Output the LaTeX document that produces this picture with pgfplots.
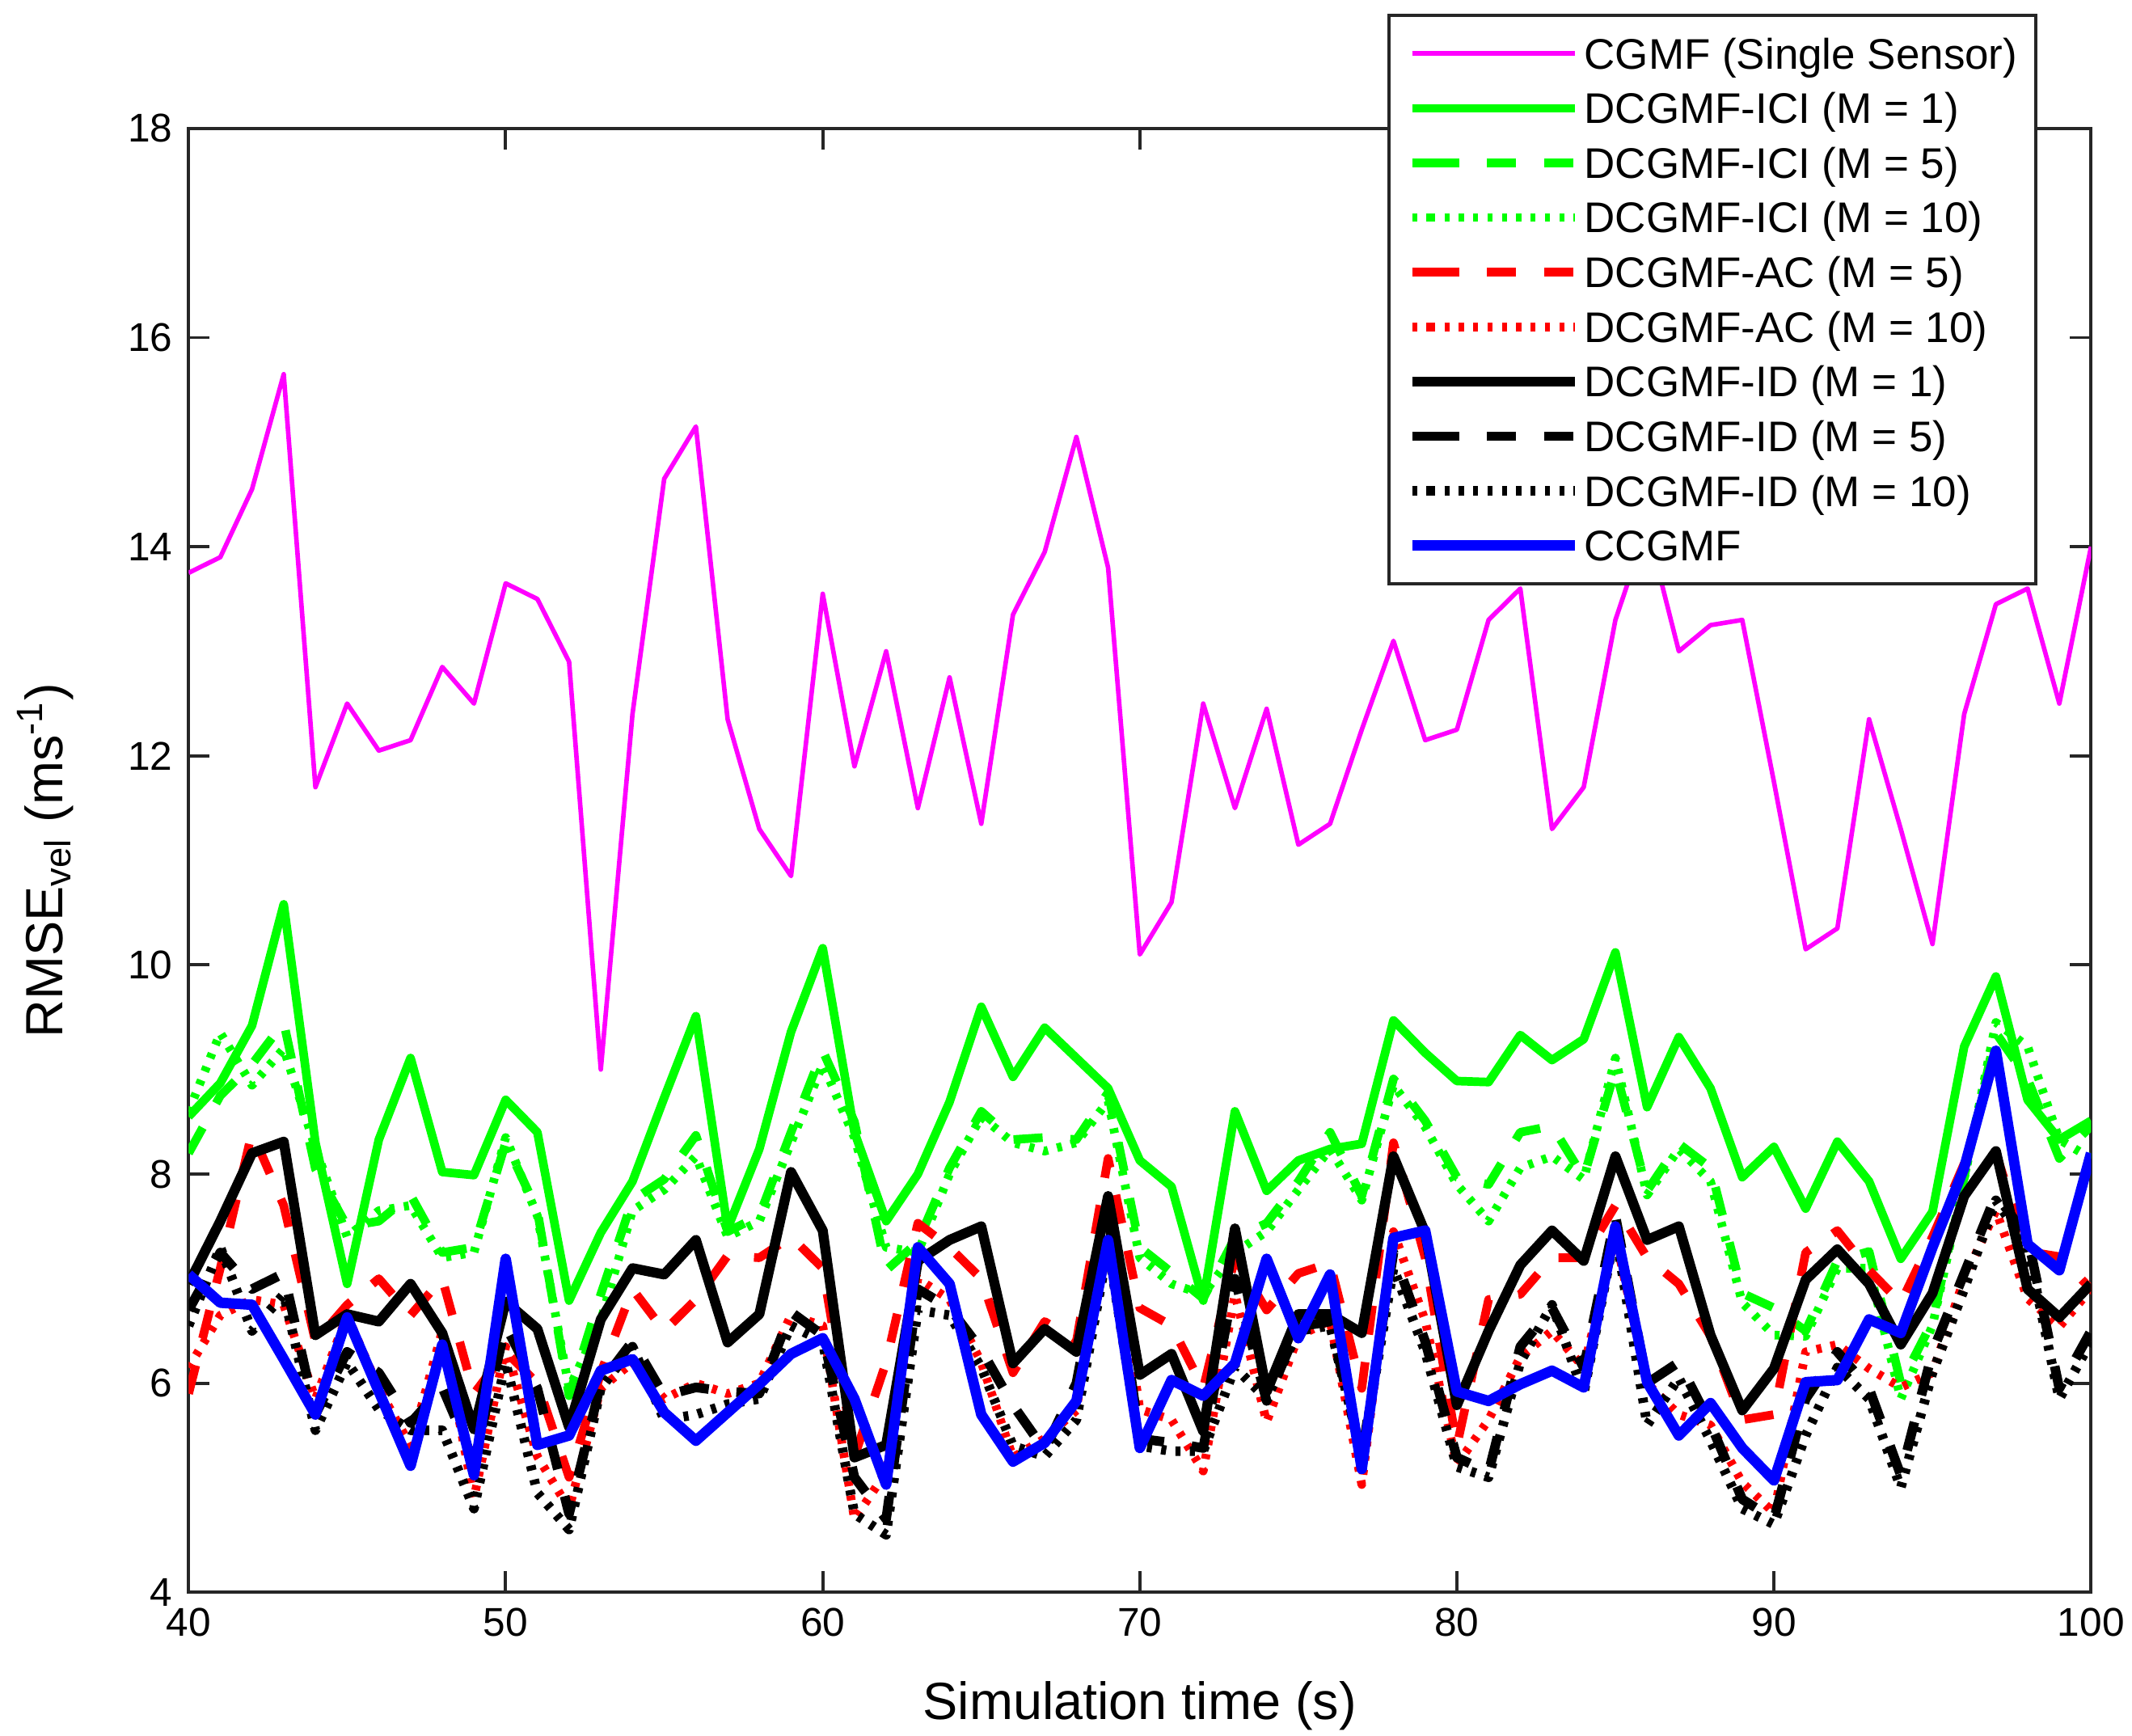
\documentclass[border=0pt]{standalone}
\usepackage{fontspec}
\setmainfont{Liberation Sans}
\usepackage{pgfplots}
\usepackage{pgfplotstable}
\pgfplotsset{compat=1.18}
\definecolor{axgray}{gray}{0.15}
\definecolor{mgreen}{rgb}{0,1,0}
\definecolor{mmag}{rgb}{1,0,1}
\definecolor{mred}{rgb}{1,0,0}
\definecolor{mblue}{rgb}{0,0,1}
\pgfplotstableread{
t  cg    ici1  ici5  ici10 ac5   ac10  id1   id5   id10  cc
40 13.75 8.55  8.20  8.60  5.90  6.15  6.95  6.70  6.55  7.04
41 13.90 8.87  8.75  9.35  7.10  6.65  7.55  7.25  7.30  6.77
42 14.55 9.42  9.05  8.85  8.40  6.80  8.20  6.90  6.50  6.75
43 15.65 10.58 9.45  9.20  7.70  6.75  8.31  7.05  6.85  6.23
44 11.70 8.30  8.05  8.25  6.40  5.85  6.46  5.70  5.55  5.70
45 12.50 6.95  7.50  7.40  6.75  6.65  6.66  6.30  6.20  6.63
46 12.05 8.33  7.55  7.65  7.00  5.95  6.59  6.10  5.75  5.92
47 12.15 9.11  7.80  7.70  6.65  5.40  6.95  5.62  5.55  5.21
48 12.85 8.02  7.25  7.20  7.00  6.50  6.48  5.96  5.55  6.37
49 12.50 7.99  7.30  7.25  5.90  4.90  5.56  5.25  4.80  5.12
50 13.65 8.71  8.30  8.35  6.30  6.35  6.78  6.55  6.20  7.19
51 13.50 8.40  7.65  7.60  6.00  5.30  6.52  5.95  4.95  5.41
52 12.90 6.79  5.88  5.95  5.10  4.80  5.58  4.75  4.60  5.50
53 9.00  7.44  6.85  6.60  6.10  5.95  6.61  6.00  5.95  6.12
54 12.40 7.93  7.75  7.65  6.90  6.20  7.10  6.40  6.35  6.23
55 14.65 8.73  7.95  7.85  6.50  5.85  7.04  5.88  5.65  5.72
56 15.15 9.51  8.37  8.17  6.80  6.00  7.37  5.96  5.70  5.45
57 12.35 7.48  7.45  7.40  7.22  5.90  6.39  5.92  5.80  5.72
58 11.30 8.24  7.60  7.55  7.20  6.00  6.66  5.90  5.85  5.99
59 10.85 9.36  8.40  8.30  7.40  6.65  8.02  6.68  6.55  6.28
60 13.55 10.16 9.18  9.05  7.10  6.55  7.46  6.46  6.40  6.43
61 11.90 8.40  8.50  8.35  5.30  4.70  5.29  5.10  4.75  5.85
62 13.00 7.55  7.08  7.30  6.20  5.15  5.41  4.70  4.55  5.03
63 11.50 8.00  7.35  7.25  7.53  7.00  7.17  6.90  6.70  7.30
64 12.75 8.69  8.06  8.00  7.30  6.80  7.37  6.72  6.65  6.95
65 11.35 9.60  8.60  8.55  7.00  6.20  7.50  6.32  6.15  5.70
66 13.35 8.93  8.33  8.30  6.10  5.29  6.19  5.79  5.40  5.25
67 13.95 9.40  8.35  8.22  6.59  5.47  6.52  5.36  5.30  5.43
68 15.05 9.11  8.33  8.30  6.40  5.74  6.30  6.00  5.65  5.83
69 13.80 8.82  8.78  8.70  8.15  7.80  7.79  7.60  7.30  7.37
70 10.10 8.13  7.30  7.20  6.72  5.75  6.08  5.47  5.40  5.38
71 10.60 7.88  7.06  6.95  6.55  5.65  6.28  5.43  5.35  6.03
72 12.50 6.79  6.81  6.85  5.95  5.16  5.54  5.38  5.35  5.88
73 11.50 8.60  7.39  7.25  7.20  6.85  7.48  7.00  6.15  6.19
74 12.45 7.84  7.53  7.45  6.70  5.63  5.92  5.83  5.85  7.19
75 11.15 8.13  7.93  7.85  7.05  6.45  6.66  6.54  6.50  6.43
76 11.35 8.24  8.40  8.24  7.15  6.60  6.66  6.59  6.55  7.04
77 12.25 8.29  7.79  7.75  5.95  5.03  6.48  5.30  5.30  5.18
78 13.10 9.47  8.91  8.85  8.30  7.45  8.17  7.25  7.10  7.39
79 12.15 9.16  8.51  8.45  7.20  6.60  7.44  6.40  6.30  7.46
80 12.25 8.89  7.97  7.90  5.40  5.22  5.79  5.29  5.20  5.92
81 13.30 8.88  7.90  7.55  6.80  5.65  6.50  5.15  5.10  5.83
82 13.60 9.33  8.40  8.06  6.85  6.25  7.13  6.35  6.20  5.99
83 11.30 9.09  8.46  8.17  7.20  6.50  7.46  6.72  6.75  6.12
84 11.70 9.29  7.97  7.95  7.20  6.15  7.17  6.15  5.90  5.96
85 13.30 10.12 9.00  9.11  7.70  7.40  8.17  7.60  7.45  7.50
86 14.20 8.64  7.84  7.80  7.20  6.00  7.37  6.00  5.60  6.01
87 13.00 9.31  8.29  8.24  6.95  5.70  7.50  6.20  6.05  5.50
88 13.25 8.82  8.06  7.93  6.45  5.60  6.46  5.61  5.45  5.81
89 13.30 7.97  6.86  6.77  5.65  5.05  5.74  4.89  4.80  5.38
90 11.75 8.26  6.72  6.46  5.70  4.76  6.14  4.70  4.65  5.07
91 10.15 7.67  6.50  6.45  7.25  6.30  6.99  5.85  5.50  6.01
92 10.35 8.31  7.17  7.10  7.46  6.37  7.28  6.30  6.15  6.03
93 12.35 7.93  7.26  7.10  7.08  6.14  6.95  5.95  5.85  6.61
94 11.30 7.19  6.00  5.85  6.77  5.96  6.37  5.12  5.00  6.48
95 10.20 7.64  6.59  6.55  7.40  6.10  6.86  6.30  6.10  7.30
96 12.40 9.22  7.97  7.95  8.10  7.00  7.79  7.05  6.90  8.06
97 13.45 9.89  9.35  9.45  8.20  7.65  8.22  7.80  7.75  9.18
98 13.60 8.71  8.91  9.22  7.26  6.81  6.90  7.40  7.30  7.33
99 12.50 8.33  8.15  8.33  7.21  6.54  6.63  5.95  5.85  7.08
100 14.00 8.51 8.46  8.15  6.90  6.90  6.95  6.50  6.40  8.20
}\datatable
\begin{document}
\begin{tikzpicture}
\begin{axis}[
  scale only axis,
  width=417.6pt, height=321.3pt,
  xmin=40, xmax=100, ymin=4, ymax=18,
  xtick={40,50,...,100}, ytick={4,6,...,18},
  tick align=inside,
  major tick length=4.6pt,
  every tick/.style={axgray, line width=0.7pt},
  axis line style={axgray, line width=0.7pt},
  /pgf/number format/assume math mode=true,
  tick label style={font=\fontsize{8.8}{10}\selectfont, text=black},
  xlabel={Simulation time (s)},
  ylabel={RMSE\textsubscript{vel} (ms\textsuperscript{-1})},
  label style={font=\fontsize{11.5}{13}\selectfont},
  xlabel style={at={(axis description cs:0.5,-0.0775)}, anchor=center},
  ylabel style={at={(axis description cs:-0.0754,0.5)}, anchor=center},
  legend cell align=left,
  legend image code/.code={\path (-3.95pt,0pt) -- (0pt,0pt); \draw[#1] (0pt,0pt) -- (31.8pt,0pt);},
  legend style={at={(0.630,1.0784)}, anchor=north west, draw=axgray, line width=0.7pt,
    fill=white, font=\fontsize{9.4}{11}\selectfont, inner xsep=4pt, inner ysep=3.55pt,
    row sep=2.3pt, column sep=0.9pt,
    nodes={inner sep=0pt, text height=8.2pt, text depth=1.5pt}},
  every axis plot/.append style={line join=round},
]
\addplot[mmag, line width=1pt] table[x=t,y=cg] {\datatable};
\addlegendentry{CGMF (Single Sensor)}
\addplot[mgreen, line width=1.9pt] table[x=t,y=ici1] {\datatable};
\addlegendentry{DCGMF-ICI (M = 1)}
\addplot[mgreen, line width=1.9pt, dash pattern=on 6.4pt off 6.1pt] table[x=t,y=ici5] {\datatable};
\addlegendentry{DCGMF-ICI (M = 5)}
\addplot[mgreen, line width=1.9pt, dash pattern=on 1.1pt off 2.05pt] table[x=t,y=ici10] {\datatable};
\addlegendentry{DCGMF-ICI (M = 10)}
\addplot[mred, line width=1.9pt, dash pattern=on 6.4pt off 6.1pt] table[x=t,y=ac5] {\datatable};
\addlegendentry{DCGMF-AC (M = 5)}
\addplot[mred, line width=1.9pt, dash pattern=on 1.1pt off 2.05pt] table[x=t,y=ac10] {\datatable};
\addlegendentry{DCGMF-AC (M = 10)}
\addplot[black, line width=2.2pt] table[x=t,y=id1] {\datatable};
\addlegendentry{DCGMF-ID (M = 1)}
\addplot[black, line width=2.1pt, dash pattern=on 6.4pt off 6.1pt] table[x=t,y=id5] {\datatable};
\addlegendentry{DCGMF-ID (M = 5)}
\addplot[black, line width=2.1pt, dash pattern=on 1.1pt off 2.05pt] table[x=t,y=id10] {\datatable};
\addlegendentry{DCGMF-ID (M = 10)}
\addplot[mblue, line width=2.3pt] table[x=t,y=cc] {\datatable};
\addlegendentry{CCGMF}
\end{axis}
\pgfresetboundingbox
\path[use as bounding box] ([xshift=-41.4pt,yshift=-31.5pt]current axis.south west) rectangle ++(468pt,381pt);
\end{tikzpicture}
\end{document}
